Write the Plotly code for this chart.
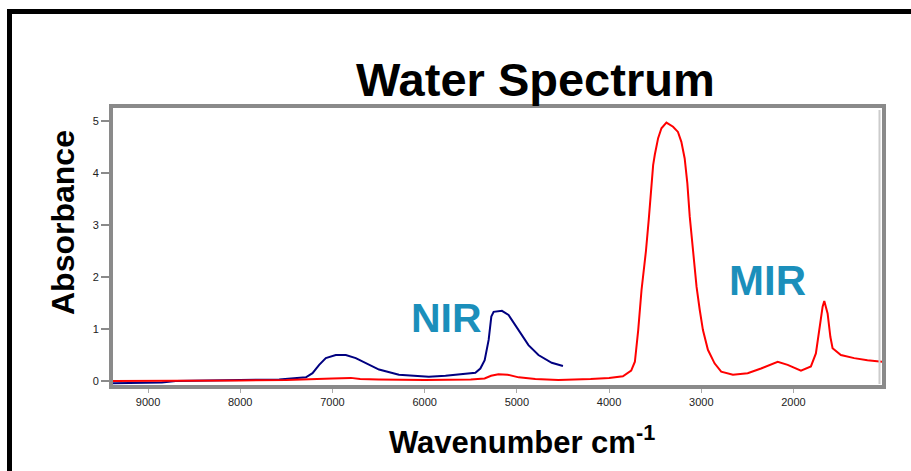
import plotly.graph_objects as go

# Full-range spectrum (red)
red_wn = [9380, 9000, 8500, 8000, 7500, 7200, 7000, 6800, 6700, 6500, 6000, 5500,
          5350, 5280, 5200, 5100, 4980, 4800, 4550, 4200, 4000, 3850, 3760, 3720,
          3684, 3648, 3630, 3600, 3570, 3545, 3522, 3504, 3468, 3432, 3378, 3306,
          3253, 3216, 3180, 3151, 3125, 3090, 3051, 3017, 2982, 2928, 2856, 2784,
          2657, 2497, 2352, 2171, 2063, 1919, 1811, 1757, 1720, 1684, 1666, 1630,
          1600, 1576, 1486, 1342, 1198, 1040]
red_abs = [0.00, 0.00, 0.01, 0.01, 0.02, 0.03, 0.05, 0.06, 0.04, 0.03, 0.02, 0.03,
           0.05, 0.10, 0.13, 0.12, 0.07, 0.04, 0.02, 0.04, 0.06, 0.09, 0.20, 0.37,
           0.98, 1.75, 2.00, 2.50, 3.10, 3.70, 4.15, 4.35, 4.67, 4.86, 4.97, 4.89,
           4.79, 4.60, 4.28, 3.80, 3.16, 2.52, 1.81, 1.37, 0.98, 0.60, 0.34, 0.18,
           0.12, 0.15, 0.24, 0.37, 0.31, 0.20, 0.28, 0.53, 0.98, 1.43, 1.54, 1.30,
           0.85, 0.63, 0.50, 0.44, 0.40, 0.37]

# Near-infrared spectrum (blue)
nir_wn = [9380, 9000, 8850, 8700, 8000, 7578, 7288, 7216, 7144, 7072, 6964, 6855,
          6747, 6639, 6495, 6279, 5955, 5774, 5630, 5450, 5396, 5349, 5306, 5277,
          5252, 5162, 5090, 4982, 4874, 4766, 4622, 4500]
nir_abs = [-0.045, -0.04, -0.03, 0.00, 0.01, 0.03, 0.07, 0.15, 0.31, 0.44, 0.50, 0.50,
           0.44, 0.34, 0.22, 0.12, 0.08, 0.10, 0.13, 0.16, 0.24, 0.40, 0.79, 1.24,
           1.33, 1.35, 1.27, 0.98, 0.69, 0.50, 0.35, 0.29]

x_ticks = [9000, 8000, 7000, 6000, 5000, 4000, 3000, 2000]
y_ticks = [0, 1, 2, 3, 4, 5]

FONT = "Liberation Sans, Arial, sans-serif"
LABEL_BLUE = "#1b8fbb"

fig = go.Figure()
fig.add_trace(go.Scatter(x=nir_wn, y=nir_abs, mode="lines",
                         line=dict(color="#000080", width=2), hoverinfo="skip"))
fig.add_trace(go.Scatter(x=red_wn, y=red_abs, mode="lines",
                         line=dict(color="#ff0000", width=2), hoverinfo="skip"))

L, R, T, B = 113, 29, 108, 86
W, H = 911, 471
pw, ph = W - L - R, H - T - B


def px(x):
    return (x - L) / pw


def py(y):
    return (H - B - y) / ph


fig.update_layout(
    width=W, height=H,
    margin=dict(l=L, r=R, t=T, b=B),
    paper_bgcolor="white", plot_bgcolor="white",
    showlegend=False,
    font=dict(family=FONT, color="#222222"),
    xaxis=dict(range=[9380, 1040], tickvals=x_ticks, ticktext=[str(v) for v in x_ticks],
               showgrid=False, zeroline=False, showline=True, linecolor="#8a8a8a",
               linewidth=4, mirror=True, ticks="outside", ticklen=4, tickwidth=1,
               tickcolor="#aaaaaa", tickfont=dict(size=11, family=FONT, color="#222222")),
    yaxis=dict(range=[-0.077, 5.25], tickvals=y_ticks, showgrid=False, zeroline=False,
               showline=True, linecolor="#8a8a8a", linewidth=4, mirror=True,
               ticks="outside", ticklen=8, tickwidth=2, tickcolor="#8a8a8a",
               tickfont=dict(size=11, family=FONT, color="#222222")),
)

# Outer black frame
fig.add_shape(type="rect", xref="paper", yref="paper",
              x0=px(9.5), x1=px(1000), y0=py(700), y1=py(11.5),
              line=dict(color="black", width=5), fillcolor="rgba(0,0,0,0)", layer="above")
# Light inner edge on the right side of the plot box
fig.add_shape(type="line", xref="paper", yref="paper",
              x0=px(879.5), x1=px(879.5), y0=py(384), y1=py(110),
              line=dict(color="#cccccc", width=2), layer="above")

fig.add_annotation(text="<b>Water Spectrum</b>", xref="paper", yref="paper",
                   x=px(535), y=py(79), xanchor="center", yanchor="middle",
                   showarrow=False, font=dict(size=47, family=FONT, color="black"))
fig.add_annotation(text="<b>Absorbance</b>", xref="paper", yref="paper",
                   x=px(63), y=py(222), xanchor="center", yanchor="middle",
                   textangle=-90, showarrow=False,
                   font=dict(size=32, family=FONT, color="black"))
fig.add_annotation(text="<b>Wavenumber cm<sup>-1</sup></b>", xref="paper", yref="paper",
                   x=px(387), y=py(440), xanchor="left", yanchor="middle",
                   showarrow=False, font=dict(size=31, family=FONT, color="black"))
fig.add_annotation(text="<b>NIR</b>", x=5760, y=1.21, xref="x", yref="y",
                   showarrow=False, font=dict(size=41, family=FONT, color=LABEL_BLUE))
fig.add_annotation(text="<b>MIR</b>", x=2279, y=1.94, xref="x", yref="y",
                   showarrow=False, font=dict(size=42, family=FONT, color=LABEL_BLUE))

fig.write_html("out.html")
